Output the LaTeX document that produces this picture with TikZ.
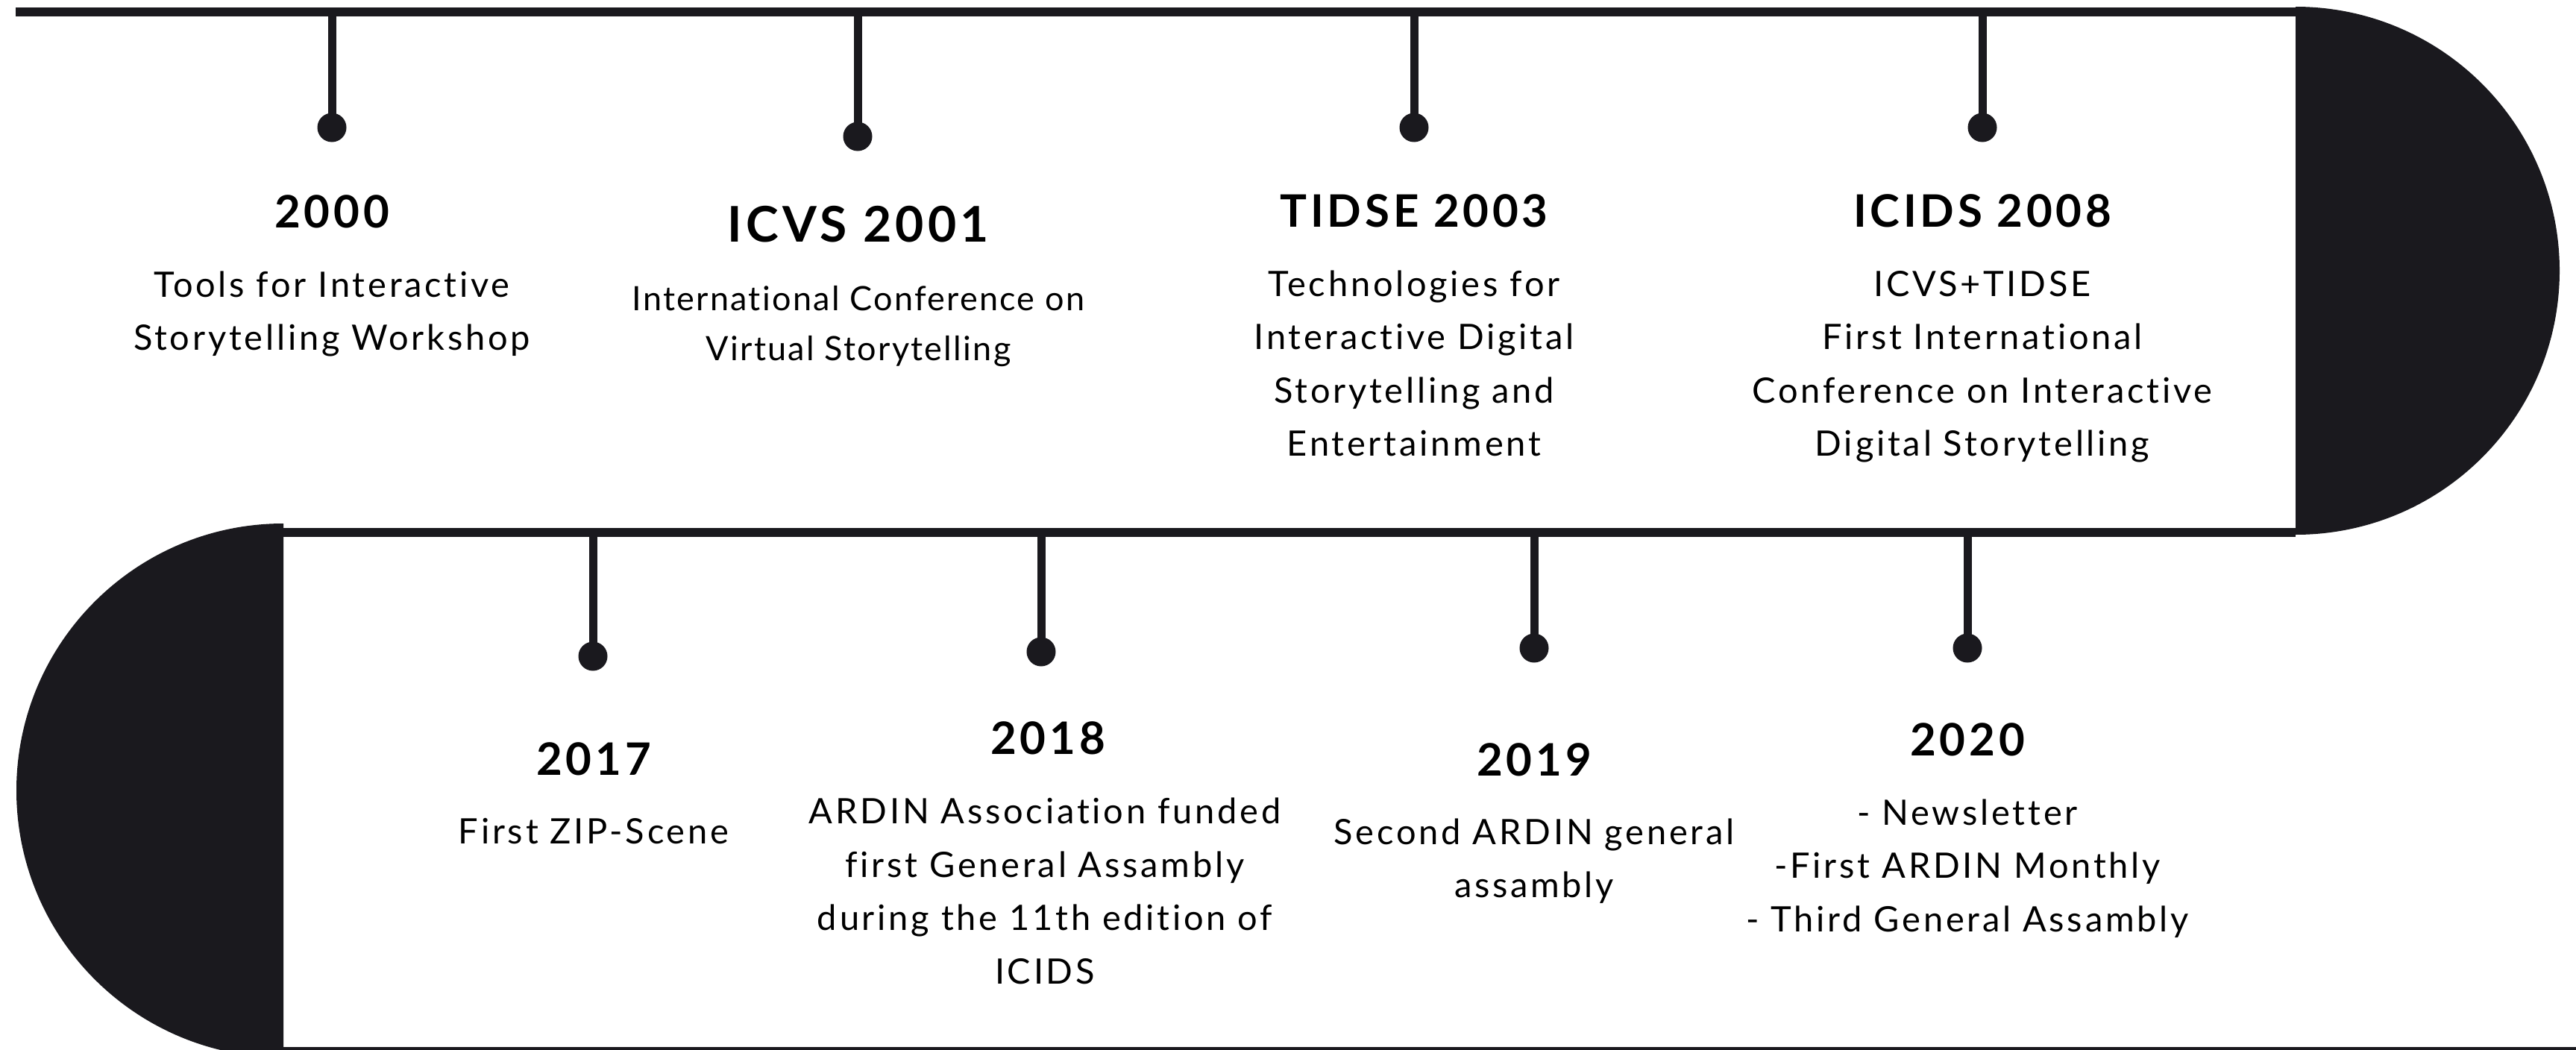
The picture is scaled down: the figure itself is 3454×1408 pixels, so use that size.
\documentclass[tikz,border=0pt]{standalone}
\usepackage{fontspec}
\setmainfont{Lato}[Ligatures=NoCommon]
\newfontfamily\bodyfont{Lato}[LetterSpace=8,Ligatures=NoCommon]
\newfontfamily\plainfont{Lato}[LetterSpace=5,Ligatures=NoCommon]
\newfontfamily\titlefont{Lato}[LetterSpace=8,Ligatures=NoCommon]
\definecolor{ink}{RGB}{26,25,30}
\begin{document}
\begin{tikzpicture}[x=1pt,y=-1pt,
  band/.style={draw=ink,line width=12pt},
  thinband/.style={draw=ink,line width=5pt},
  stem/.style={draw=ink,line width=11pt},
  dotn/.style={circle,fill=ink,minimum size=39pt,inner sep=0pt},
  yr/.style={anchor=base,align=center,inner sep=0pt,font=\titlefont\bfseries\fontsize{60}{72}\selectfont},
  yrbig/.style={anchor=base,align=center,inner sep=0pt,font=\titlefont\bfseries\fontsize{66}{78}\selectfont},
  txt/.style={anchor=base,align=center,inner sep=0pt,font=\bodyfont\fontsize{47}{71.5}\selectfont},
  txtplain/.style={anchor=base,align=center,inner sep=0pt,font=\plainfont\fontsize{45}{67}\selectfont}]
\useasboundingbox (0,0) rectangle (3454,1408);
\fill[white] (0,0) rectangle (3454,1408);
% track
\coordinate (tl) at (21,16);
\coordinate (tr) at (3078,16);
\coordinate (ml) at (380,714);
\coordinate (mr) at (3078,714);
\coordinate (bl) at (380,1406);
\coordinate (br) at (3454,1406);
\draw[band] (tl) -- (tr);
\draw[band] (ml) -- (mr);
\draw[thinband] (bl) -- (br);
\fill[ink] (3078,9) arc[start angle=-90,end angle=90,radius=354] -- cycle;
\fill[ink] (380,702) arc[start angle=270,end angle=90,radius=358] -- cycle;
% anchor points on the track
\coordinate (l1) at (445,16);
\coordinate (l2) at (1150,16);
\coordinate (l3) at (1896,16);
\coordinate (l4) at (2658,16);
\coordinate (l5) at (795,714);
\coordinate (l6) at (1396,714);
\coordinate (l7) at (2057,714);
\coordinate (l8) at (2638,714);
% dots
\node[dotn] (d1) at (445,171) {};
\node[dotn] (d2) at (1150,183) {};
\node[dotn] (d3) at (1896,171) {};
\node[dotn] (d4) at (2658,171) {};
\node[dotn] (d5) at (795,880) {};
\node[dotn] (d6) at (1396,874) {};
\node[dotn] (d7) at (2057,869) {};
\node[dotn] (d8) at (2638,869) {};
\foreach \i in {1,...,8} {\draw[stem] (l\i) -- (d\i.center);}
% top row texts (base anchor = baseline of last line)
\node[yr] (y1) at (445,305) {2000};
\node[txt] (b1) at (445,469.5) {Tools for Interactive\\Storytelling Workshop};
\node[yrbig] (y2) at (1151,324) {ICVS 2001};
\node[txtplain] (b2) at (1151,483) {International Conference on\\Virtual Storytelling};
\node[yr] (y3) at (1896,304) {TIDSE 2003};
\node[txt] (b3) at (1896,611.5) {Technologies for\\Interactive Digital\\Storytelling and\\Entertainment};
\node[yr] (y4) at (2658,304) {ICIDS 2008};
\node[txt] (b4) at (2658,611.5) {ICVS+TIDSE\\First International\\Conference on Interactive\\Digital Storytelling};
% bottom row texts
\node[yr] (y5) at (796,1039) {2017};
\node[txt] (b5) at (796,1131) {First ZIP-Scene};
\node[yr] (y6) at (1405,1011) {2018};
\node[txt] (b6) at (1401,1319) {ARDIN Association funded\\first General Assambly\\during the 11th edition of\\ICIDS};
\node[yr] (y7) at (2057,1040) {2019};
\node[txt] (b7) at (2057,1203.5) {Second ARDIN general\\assambly};
\node[yr] (y8) at (2638,1013) {2020};
\node[txt] (b8) at (2638,1249) {- Newsletter\\-First ARDIN Monthly\\- Third General Assambly};
\end{tikzpicture}
\end{document}
